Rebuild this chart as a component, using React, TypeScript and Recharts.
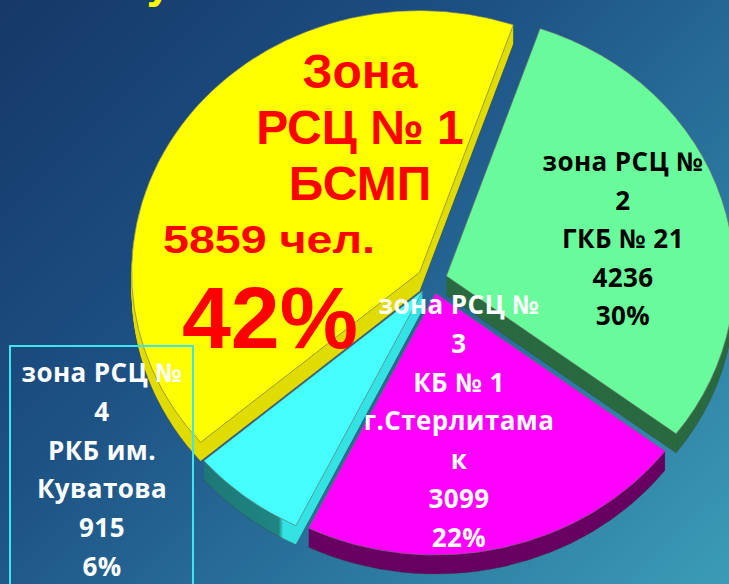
import React from 'react';
import { PieChart, Pie, Cell, Sector } from 'recharts';

const zoneNames = ['Зона РСЦ № 1 БСМП', 'зона РСЦ № 2 ГКБ № 21', 'зона РСЦ № 3 КБ № 1 г.Стерлитамак', 'зона РСЦ № 4 РКБ им. Куватова'];
const patients = [5859, 4236, 3099, 915];
const percentLabels = ['42%', '30%', '22%', '6%'];

const zone1Lines = ['Зона', 'РСЦ № 1', 'БСМП'];
const zone1Count = `${patients[0]} чел.`;
const zone2Lines = ['зона РСЦ №', '2', 'ГКБ № 21', `${patients[1]}`, percentLabels[1]];
const zone3Lines = ['зона РСЦ №', '3', 'КБ № 1', 'г.Стерлитама', 'к', `${patients[2]}`, percentLabels[2]];
const zone4Lines = ['зона РСЦ №', '4', 'РКБ им.', 'Куватова', `${patients[3]}`, percentLabels[3]];

const topColors = ['#ffff00', '#69fb9b', '#ff00ff', '#45ffff'];
const sideColors = ['#e0dc00', '#2b6a40', '#670062', 'url(#cyanSide)'];

const chartData = zoneNames.map((name, i) => ({ name, value: patients[i] }));

const K = 0.909;
const EXPLODE = 15;
const DEPTH = 19;

const offsetFor = (mid: number) => {
  const r = (mid * Math.PI) / 180;
  return [EXPLODE * Math.cos(r), -EXPLODE * Math.sin(r) * K];
};

const TopShape = (props: any) => {
  const { cx, cy, innerRadius, outerRadius, startAngle, endAngle, midAngle, fill } = props;
  const [dx, dy] = offsetFor(midAngle);
  return (
    <g transform={`translate(${cx + dx},${cy + dy}) scale(1,${K}) translate(${-cx},${-cy})`}>
      <Sector
        cx={cx}
        cy={cy}
        innerRadius={innerRadius}
        outerRadius={outerRadius}
        startAngle={startAngle}
        endAngle={endAngle}
        fill={fill}
        stroke="rgba(110,110,110,0.75)"
        strokeWidth={0.9}
      />
    </g>
  );
};

const DepthShape = (props: any) => {
  const { cx, cy, innerRadius, outerRadius, startAngle, endAngle, midAngle, fill } = props;
  const [dx, dy] = offsetFor(midAngle);
  const layers = [];
  for (let t = DEPTH; t >= 1; t--) {
    layers.push(
      <g key={t} transform={`translate(${cx + dx},${cy + dy + t}) scale(1,${K}) translate(${-cx},${-cy})`}>
        <Sector
          cx={cx}
          cy={cy}
          innerRadius={innerRadius}
          outerRadius={outerRadius}
          startAngle={startAngle}
          endAngle={endAngle}
          fill={fill}
          stroke={t === DEPTH ? 'rgba(60,60,60,0.5)' : 'none'}
          strokeWidth={0.8}
        />
      </g>
    );
  }
  return <g>{layers}</g>;
};

const whiteFont = "'Open Sans', 'Noto Sans', sans-serif";
const redFont = "'Liberation Sans', Arial, sans-serif";

export default function App() {
  return (
    <div
      style={{
        position: 'absolute',
        left: 0,
        top: 0,
        width: 729,
        height: 584,
        overflow: 'hidden',
        background: 'linear-gradient(135deg, #153868 0%, #1d5184 38%, #2a759e 68%, #3b9cb7 100%)',
      }}
    >
      <svg width={0} height={0} style={{ position: 'absolute' }}>
        <defs>
          <linearGradient id="cyanSide" gradientUnits="userSpaceOnUse" x1={200} y1={0} x2={420} y2={0}>
            <stop offset="0%" stopColor="#1c7674" />
            <stop offset="40%" stopColor="#1f8583" />
            <stop offset="42%" stopColor="#33e2e2" />
            <stop offset="100%" stopColor="#33e2e2" />
          </linearGradient>
        </defs>
      </svg>
      <div style={{ position: 'absolute', left: 0, top: 0 }}>
        <PieChart width={729} height={584} margin={{ top: 0, right: 0, bottom: 0, left: 0 }}>
          <Pie
            data={chartData}
            dataKey="value"
            nameKey="name"
            cx={432}
            cy={280}
            outerRadius={288}
            startAngle={220.5}
            endAngle={-139.5}
            stroke="none"
            isAnimationActive={false}
            shape={DepthShape}
          >
            {chartData.map((d, i) => (
              <Cell key={`d-${i}`} fill={sideColors[i]} />
            ))}
          </Pie>
          <Pie
            data={chartData}
            dataKey="value"
            nameKey="name"
            cx={432}
            cy={280}
            outerRadius={288}
            startAngle={220.5}
            endAngle={-139.5}
            stroke="none"
            isAnimationActive={false}
            shape={TopShape}
          >
            {chartData.map((d, i) => (
              <Cell key={`t-${i}`} fill={topColors[i]} />
            ))}
          </Pie>
        </PieChart>
      </div>
      <svg
        width={729}
        height={584}
        style={{ position: 'absolute', left: 0, top: 0, pointerEvents: 'none' }}
      >
        <text x={158} y={-2} fill="#ffff00" fontFamily="'DejaVu Sans', sans-serif" fontWeight="bold" fontSize={40} textAnchor="middle">
          у
        </text>
        {zone1Lines.map((s, i) => (
          <text
            key={`z1-${i}`}
            x={360}
            y={88 + i * 56}
            fill="#ff0000"
            fontFamily={redFont}
            fontWeight="bold"
            fontSize={48}
            textAnchor="middle"
          >
            {s}
          </text>
        ))}
        <text x={269} y={253} fill="#ff0000" fontFamily={redFont} fontWeight="bold" fontSize={39} textAnchor="middle" textLength={212} lengthAdjust="spacingAndGlyphs">
          {zone1Count}
        </text>
        <text x={270} y={348} fill="#ff0000" fontFamily={redFont} fontWeight="bold" fontSize={88} textAnchor="middle">
          {percentLabels[0]}
        </text>
        {zone2Lines.map((s, i) => (
          <text
            key={`z2-${i}`}
            x={623}
            y={171 + i * 38.5}
            fill="#000000"
            fontFamily={whiteFont}
            fontWeight="bold"
            fontSize={26}
            letterSpacing={0.4}
            textAnchor="middle"
          >
            {s}
          </text>
        ))}
        {zone3Lines.map((s, i) => (
          <text
            key={`z3-${i}`}
            x={459}
            y={314 + i * 38.8}
            fill="#ffffff"
            fontFamily={whiteFont}
            fontWeight="bold"
            fontSize={26}
            letterSpacing={0.4}
            textAnchor="middle"
          >
            {s}
          </text>
        ))}
        <rect x={10} y={346} width={183} height={260} fill="none" stroke="#3de6ee" strokeWidth={2} />
        {zone4Lines.map((s, i) => (
          <text
            key={`z4-${i}`}
            x={102}
            y={382 + i * 38.8}
            fill="#ffffff"
            fontFamily={whiteFont}
            fontWeight="bold"
            fontSize={26}
            letterSpacing={0.4}
            textAnchor="middle"
          >
            {s}
          </text>
        ))}
      </svg>
    </div>
  );
}
